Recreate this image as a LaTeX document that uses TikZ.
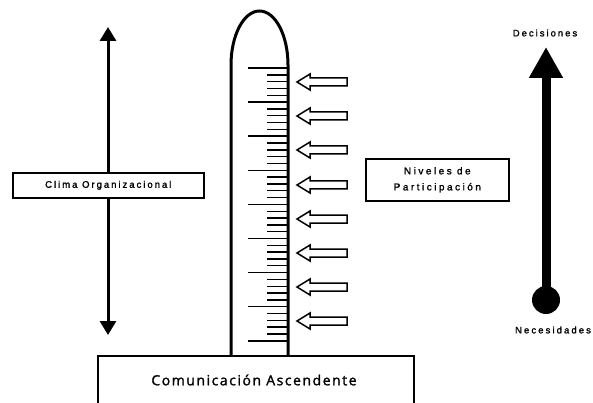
\documentclass[tikz,border=0pt]{standalone}
\usepackage{fontspec}
\setmainfont{Liberation Sans}
\newfontfamily\bigfont{Open Sans}
\usetikzlibrary{arrows.meta}
\begin{document}
\begin{tikzpicture}[x=1pt,y=-1pt,
  lbl/.style={font=\fontsize{9.5}{11}\selectfont\addfontfeature{LetterSpace=21,FakeBold=1.5}, inner sep=0pt},
  boxed/.style={draw, line width=1.6pt, fill=white, inner sep=0pt, anchor=north west},
  hollow/.style={draw, line width=1.5pt, fill=white, line join=miter},
  tick/.style={line width=1.4pt}]
\useasboundingbox (0,0) rectangle (593,403);
% left double arrow
\coordinate (lt) at (108,27);
\coordinate (lb) at (108,335);
\draw[line width=3pt, {Triangle[length=14pt,width=16pt]}-{Triangle[length=14pt,width=16pt]}] (lt) -- (lb);
% Clima box
\node[boxed, minimum width=191pt, minimum height=25pt] (clima) at (12,172) {};
\node[lbl] (climat) at (clima.center) {Clima Organizacional};
% thermometer
\draw[line width=3pt] (231,355) -- (231,65) arc[start angle=180, end angle=360, x radius=28.5, y radius=54] -- (288,355);
% ticks
\foreach \k in {0,...,8}{
  \draw[tick] (248,{68+34.1*\k}) -- (288,{68+34.1*\k});
}
\foreach \k in {0,...,7}{
  \foreach \j in {1,...,4}{
    \draw[tick] (267,{68+34.1*\k+6.82*\j}) -- (288,{68+34.1*\k+6.82*\j});
  }
}
% hollow arrows
\foreach \y in {82,116,150,185,219,253,287,321}{
  \draw[hollow] (297,\y) -- (310,\y-8) -- (310,\y-4) -- (347,\y-4) -- (347,\y+4) -- (310,\y+4) -- (310,\y+8) -- cycle;
}
% Niveles box
\node[boxed, minimum width=143pt, minimum height=42pt] (niv) at (365,158) {};
\node[lbl, align=center, font=\fontsize{10}{16}\selectfont\addfontfeature{LetterSpace=25,FakeBold=1.5}] (nivt) at (niv.center) {Niveles de\\Participación};
% bottom box
\node[boxed, minimum width=316pt, minimum height=48pt] (base) at (97,355) {};
\node[inner sep=0pt, font=\bigfont\fontsize{14}{16}\selectfont\addfontfeature{LetterSpace=11,FakeBold=1.5}] (baset) at (254,380) {Comunicación Ascendente};
% right thick arrow
\node[lbl] (dec) at (545,33) {Decisiones};
\node[lbl, font=\fontsize{9.5}{11}\selectfont\addfontfeature{LetterSpace=22,FakeBold=1.5}] (nec) at (553,330) {Necesidades};
\coordinate (rt) at (546,47);
\coordinate (rb) at (546,300);
\fill (rb) circle[radius=14];
\draw[line width=9pt, -{Triangle[length=31pt,width=32pt]}] (rb) -- (rt);
\end{tikzpicture}
\end{document}
